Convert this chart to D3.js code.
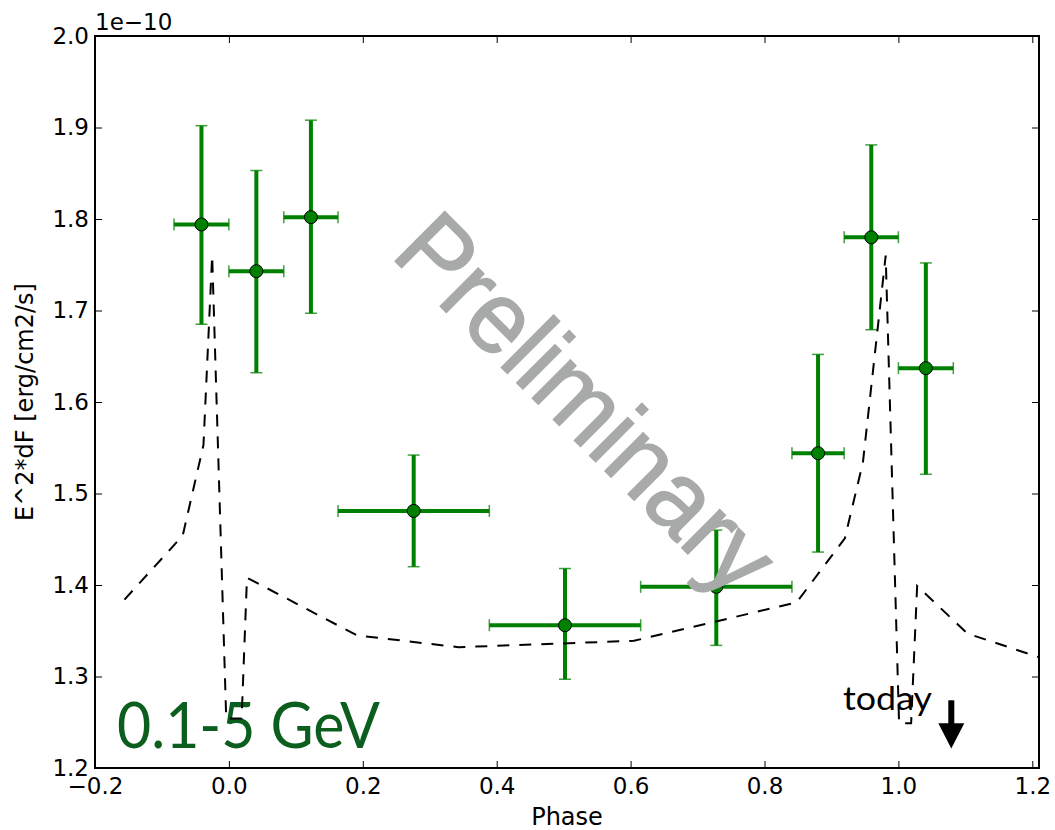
<!DOCTYPE html>
<html>
<head>
<meta charset="utf-8">
<script src="https://cdn.jsdelivr.net/npm/d3@7"></script>
<style>
  html, body { margin: 0; padding: 0; background: #fff; }
  svg { display: block; }
</style>
</head>
<body>
<svg id="chart" width="1055" height="830"></svg>
<script>
// ---- data ----
const phase     = [-0.041, 0.041, 0.1225, 0.276, 0.502, 0.728, 0.880, 0.9595, 1.041];
const phaseErr  = [0.041, 0.041, 0.0405, 0.113, 0.113, 0.113, 0.039, 0.0405, 0.041];
const flux      = [1.794, 1.743, 1.802, 1.481, 1.356, 1.398, 1.544, 1.780, 1.637];
const fluxHi    = [1.902, 1.853, 1.908, 1.542, 1.418, 1.460, 1.652, 1.881, 1.752];
const fluxLo    = [1.685, 1.632, 1.697, 1.420, 1.297, 1.334, 1.436, 1.679, 1.521];

const modelPhase = [-0.156, -0.069, -0.038, -0.025, -0.004, 0.019, 0.027, 0.191, 0.343, 0.605, 0.848, 0.920, 0.947, 0.981, 1.001, 1.019, 1.028, 1.103, 1.21];
const modelFlux  = [1.384, 1.454, 1.553, 1.760, 1.254, 1.254, 1.408, 1.345, 1.332, 1.339, 1.381, 1.451, 1.534, 1.760, 1.249, 1.249, 1.399, 1.347, 1.321];

const xTicks = [-0.2, 0.0, 0.2, 0.4, 0.6, 0.8, 1.0, 1.2];
const yTicks = [1.2, 1.3, 1.4, 1.5, 1.6, 1.7, 1.8, 1.9, 2.0];

const todayPhase = 1.079, todayTop = 1.274, todayHead = 1.2488, todayTip = 1.2214;

// ---- layout ----
const L = 95, R = 1039, T = 36, B = 768;
const x = d3.scaleLinear().domain([-0.2, 1.21]).range([L, R]);
const y = d3.scaleLinear().domain([1.2, 2.0]).range([B, T]);

const svg = d3.select("#chart");
const font = "'DejaVu Sans', sans-serif";
const fmt = d => (d < 0 ? "\u2212" : "") + Math.abs(d).toFixed(1);

// axes
const gx = svg.append("g").attr("transform", `translate(0,${B})`)
  .call(d3.axisBottom(x).tickValues(xTicks).tickFormat(fmt).tickSizeInner(-7).tickSizeOuter(0).tickPadding(10));
const gxt = svg.append("g").attr("transform", `translate(0,${T})`)
  .call(d3.axisTop(x).tickValues(xTicks).tickFormat("").tickSizeInner(-7).tickSizeOuter(0));
const gy = svg.append("g").attr("transform", `translate(${L},0)`)
  .call(d3.axisLeft(y).tickValues(yTicks).tickFormat(d => d.toFixed(1)).tickSizeInner(-7).tickSizeOuter(0).tickPadding(6));
const gyr = svg.append("g").attr("transform", `translate(${R},0)`)
  .call(d3.axisRight(y).tickValues(yTicks).tickFormat("").tickSizeInner(-7).tickSizeOuter(0));
[gx, gxt, gy, gyr].forEach(g => {
  g.select(".domain").remove();
  g.selectAll(".tick line").attr("stroke", "#000").attr("stroke-width", 1);
  g.selectAll(".tick text").attr("fill", "#000").style("font-family", font).style("font-size", "23px");
});

// frame
svg.append("rect").attr("x", L).attr("y", T).attr("width", R - L).attr("height", B - T)
  .attr("fill", "none").attr("stroke", "#000").attr("stroke-width", 2);

// offset label
svg.append("text").attr("x", L).attr("y", 30).text("1e\u221210")
  .style("font-family", font).style("font-size", "23px").attr("fill", "#000");

// axis labels
svg.append("text").attr("x", (L + R) / 2).attr("y", 825).attr("text-anchor", "middle")
  .text("Phase").style("font-family", font).style("font-size", "24px").attr("fill", "#000");
svg.append("text").attr("transform", `translate(33,${(T + B) / 2}) rotate(-90)`).attr("text-anchor", "middle")
  .text("E^2*dF [erg/cm2/s]").style("font-family", font).style("font-size", "24px").attr("fill", "#000");

// error bars
const green = "#008000";
const idx = d3.range(phase.length);
const eb = svg.append("g");
eb.selectAll("line.v").data(idx).join("line")
  .attr("x1", i => x(phase[i])).attr("x2", i => x(phase[i]))
  .attr("y1", i => y(fluxLo[i])).attr("y2", i => y(fluxHi[i]))
  .attr("stroke", green).attr("stroke-width", 4);
eb.selectAll("line.h").data(idx).join("line")
  .attr("x1", i => x(phase[i] - phaseErr[i])).attr("x2", i => x(phase[i] + phaseErr[i]))
  .attr("y1", i => y(flux[i])).attr("y2", i => y(flux[i]))
  .attr("stroke", green).attr("stroke-width", 4);
const cap = 6;
idx.forEach(i => {
  [fluxLo[i], fluxHi[i]].forEach(v => {
    eb.append("line").attr("x1", x(phase[i]) - cap).attr("x2", x(phase[i]) + cap)
      .attr("y1", y(v)).attr("y2", y(v)).attr("stroke", green).attr("stroke-width", 1.5).attr("stroke-opacity", 0.75);
  });
  [phase[i] - phaseErr[i], phase[i] + phaseErr[i]].forEach(p => {
    eb.append("line").attr("x1", x(p)).attr("x2", x(p))
      .attr("y1", y(flux[i]) - cap).attr("y2", y(flux[i]) + cap).attr("stroke", green).attr("stroke-width", 1.5).attr("stroke-opacity", 0.75);
  });
});
eb.selectAll("circle").data(idx).join("circle")
  .attr("cx", i => x(phase[i])).attr("cy", i => y(flux[i])).attr("r", 6.5)
  .attr("fill", green).attr("stroke", "#000").attr("stroke-width", 1);

// text annotations
svg.append("text").attr("x", 117).attr("y", 748).text("0.1-5 GeV")
  .attr("textLength", 263).attr("lengthAdjust", "spacingAndGlyphs")
  .style("font-family", "Lato, sans-serif").style("font-size", "63px").attr("fill", "#0b5e1d");
svg.append("text").attr("x", 843).attr("y", 710).text("today")
  .attr("textLength", 89).attr("lengthAdjust", "spacingAndGlyphs")
  .style("font-family", "Lato, sans-serif").style("font-size", "32px").attr("fill", "#000");

// model (dashed)
const line = d3.line().x((d, i) => x(modelPhase[i])).y((d, i) => y(modelFlux[i]));
svg.append("path").attr("d", line(modelPhase)).attr("fill", "none")
  .attr("stroke", "#000").attr("stroke-width", 2).attr("stroke-dasharray", "12,10");

// today arrow
const ax = x(todayPhase);
svg.append("rect").attr("x", ax - 3).attr("y", y(todayTop)).attr("width", 6).attr("height", y(todayHead) - y(todayTop) + 1).attr("fill", "#000");
svg.append("path").attr("d", `M${ax - 13},${y(todayHead)} L${ax + 13},${y(todayHead)} L${ax},${y(todayTip)} Z`).attr("fill", "#000");

// watermark
svg.append("text").attr("transform", "translate(562,428) rotate(45)").attr("text-anchor", "middle")
  .text("Preliminary").attr("textLength", 488).attr("lengthAdjust", "spacingAndGlyphs")
  .style("font-family", "'Liberation Sans', Arial, sans-serif").style("font-size", "102px")
  .attr("fill", "#a8aaa9").attr("stroke", "#a8aaa9").attr("stroke-width", 1.5);
</script>
</body>
</html>
